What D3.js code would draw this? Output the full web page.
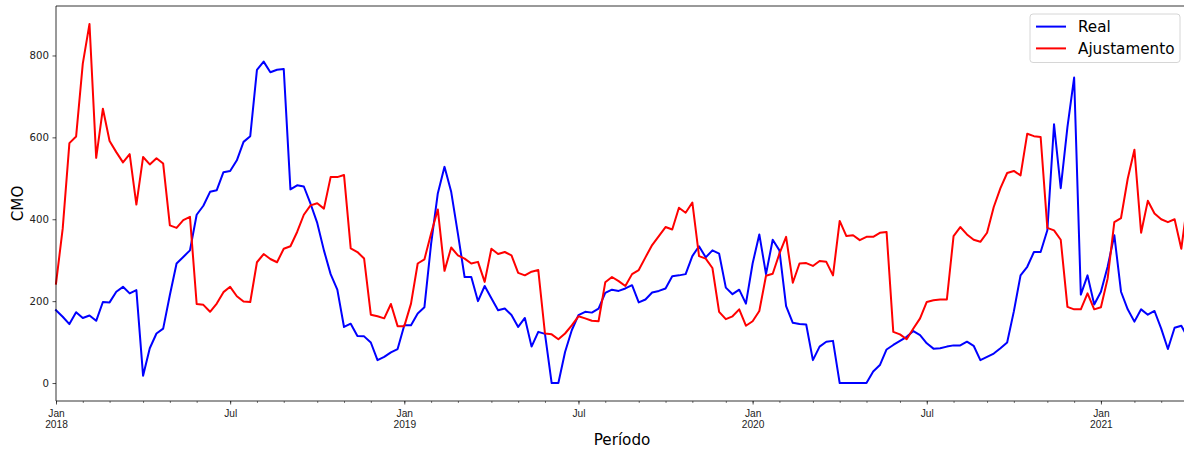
<!DOCTYPE html>
<html>
<head>
<meta charset="utf-8">
<script src="https://cdn.jsdelivr.net/npm/d3@7"></script>
<style>
  html, body { margin: 0; padding: 0; background: #fff; }
  svg { display: block; font-family: "DejaVu Sans", sans-serif; }
</style>
</head>
<body>
<div id="chart"></div>
<script>
// Weekly CMO series (weeks running Sunday to Saturday, first week starting 2017-12-31)
const firstWeek = "2017-12-31";

const real = [
  178, 162, 144, 173, 159, 165, 152, 198, 197, 223,
  235, 219, 227, 18, 85, 121, 133, 215, 292, 308,
  324, 411, 433, 467, 471, 515, 518, 544, 589, 603,
  765, 785, 759, 765, 767, 473, 483, 480, 438, 391,
  324, 266, 228, 137, 145, 115, 114, 99, 56, 64,
  75, 83, 141, 141, 170, 185, 340, 463, 528, 467,
  365, 259, 259, 200, 237, 207, 178, 182, 166, 137,
  159, 89, 125, 120, 0, 0, 76, 129, 166, 174,
  172, 182, 220, 228, 225, 231, 239, 197, 204, 221,
  225, 231, 261, 263, 266, 310, 334, 307, 324, 316,
  233, 217, 228, 194, 292, 363, 266, 350, 324, 188,
  147, 144, 143, 56, 89, 101, 103, 0, 0, 0,
  0, 0, 28, 44, 82, 93, 103, 113, 127, 117,
  97, 84, 85, 89, 92, 92, 101, 91, 56, 64,
  72, 85, 99, 175, 263, 284, 320, 320, 373, 632,
  476, 625, 746, 216, 263, 192, 223, 284, 361, 223,
  180, 150, 180, 167, 176, 133, 83, 135, 140, 110
];

const ajustamento = [
  243, 377, 586, 602, 780, 877, 550, 670, 591, 564,
  539, 559, 436, 552, 534, 549, 536, 385, 379, 398,
  406, 193, 191, 174, 194, 222, 235, 212, 199, 198,
  295, 315, 303, 295, 328, 334, 369, 411, 434, 439,
  426, 503, 503, 508, 329, 320, 304, 167, 163, 158,
  193, 139, 139, 194, 292, 302, 365, 424, 274, 331,
  312, 304, 292, 296, 247, 328, 315, 320, 312, 269,
  263, 272, 276, 121, 119, 107, 121, 141, 163, 158,
  152, 151, 246, 259, 249, 237, 266, 276, 307, 337,
  359, 381, 375, 428, 416, 441, 310, 304, 281, 174,
  156, 163, 180, 140, 151, 176, 262, 267, 316, 357,
  245, 292, 293, 286, 298, 296, 263, 396, 359, 361,
  349, 357, 357, 367, 369, 125, 119, 107, 133, 158,
  198, 202, 204, 204, 359, 381, 363, 350, 345, 367,
  430, 476, 513, 518, 507, 609, 603, 601, 379, 373,
  350, 186, 180, 180, 219, 180, 185, 255, 393, 403,
  499, 570, 367, 445, 414, 400, 393, 400, 328, 450
];

const seriesNames = ["Real", "Ajustamento"];
const seriesColors = ["#0000ff", "#ff0000"];

// Labelled month ticks and their labels
const majorMonths = ["2018-01-01", "2018-07-01", "2019-01-01", "2019-07-01", "2020-01-01", "2020-07-01", "2021-01-01"];
const majorLabels = [["Jan", "2018"], ["Jul"], ["Jan", "2019"], ["Jul"], ["Jan", "2020"], ["Jul"], ["Jan", "2021"]];
const yTicks = [0, 200, 400, 600, 800];

const W = 1184, H = 450;
const margin = { left: 56, top: 6, right: 1188, bottom: 401 };

const parse = d3.utcParse("%Y-%m-%d");
const start = parse(firstWeek);
const weeks = d3.range(real.length).map(i => d3.utcWeek.offset(start, i));

const svg = d3.select("#chart").append("svg")
  .attr("width", W).attr("height", H);

const x = d3.scaleUtc()
  .domain([weeks[0], weeks[weeks.length - 1]])
  .range([margin.left, margin.right]);

const allVals = real.concat(ajustamento);
const lo = d3.min(allVals), hi = d3.max(allVals);
const pad = (hi - lo) * 0.05;
const y = d3.scaleLinear()
  .domain([lo - pad, hi + pad])
  .range([margin.bottom, margin.top]);

// Each month tick sits on the week that contains the 1st of the month
const weekOf = d => d3.utcSunday.floor(d);
const minorTicks = d3.utcMonth.range(parse("2018-01-01"), d3.utcDay.offset(weeks[weeks.length - 1], 1))
  .map(weekOf);
const majorTicks = majorMonths.map(s => weekOf(parse(s)));

// Lines
const series = [real, ajustamento];
const line = d3.line()
  .x((d, i) => x(weeks[i]))
  .y(d => y(d));

svg.append("g").selectAll("path")
  .data(series)
  .join("path")
  .attr("d", d => line(d))
  .attr("fill", "none")
  .attr("stroke", (d, i) => seriesColors[i])
  .attr("stroke-width", 2)
  .attr("stroke-linejoin", "round")
  .attr("stroke-linecap", "square");

// Y axis
const yAxis = svg.append("g")
  .attr("transform", `translate(${margin.left},0)`)
  .call(d3.axisLeft(y).tickValues(yTicks).tickSize(3.5).tickPadding(3.5).tickFormat(d3.format("d")));
yAxis.select(".domain").remove();
yAxis.selectAll("text").attr("font-size", 10.2).attr("fill", "#222").attr("font-family", "DejaVu Sans");
yAxis.selectAll("line").attr("stroke", "#222").attr("stroke-width", 0.8);

// X axis: minor month ticks
const xMinor = svg.append("g")
  .attr("transform", `translate(0,${margin.bottom})`)
  .call(d3.axisBottom(x).tickValues(minorTicks).tickSize(2).tickFormat(""));
xMinor.select(".domain").remove();
xMinor.selectAll("line").attr("stroke", "#222").attr("stroke-width", 0.6);

// X axis: labelled ticks
const xMajor = svg.append("g")
  .attr("transform", `translate(0,${margin.bottom})`)
  .call(d3.axisBottom(x).tickValues(majorTicks).tickSize(3.5).tickFormat(""));
xMajor.select(".domain").remove();
xMajor.selectAll("line").attr("stroke", "#222").attr("stroke-width", 0.8);
xMajor.selectAll(".tick").each(function (d, i) {
  const t = d3.select(this).append("text")
    .attr("fill", "#222")
    .attr("font-size", 10.2)
    .attr("text-anchor", "middle");
  majorLabels[i].forEach((s, k) => {
    t.append("tspan").attr("x", 0).attr("y", 15.6 + k * 11.6).text(s);
  });
});

// Spines (left, bottom, top)
const spine = svg.append("g").attr("stroke", "#000").attr("stroke-width", 0.8);
spine.append("line").attr("x1", margin.left).attr("x2", margin.left).attr("y1", margin.top).attr("y2", margin.bottom);
spine.append("line").attr("x1", margin.left).attr("x2", margin.right).attr("y1", margin.bottom).attr("y2", margin.bottom);
spine.append("line").attr("x1", margin.left).attr("x2", margin.right).attr("y1", margin.top).attr("y2", margin.top);
spine.append("line").attr("x1", margin.right).attr("x2", margin.right).attr("y1", margin.top).attr("y2", margin.bottom);

// Axis titles
svg.append("text")
  .attr("x", (margin.left + margin.right) / 2)
  .attr("y", 445)
  .attr("text-anchor", "middle")
  .attr("font-size", 15.2)
  .attr("fill", "#000")
  .text("Período");

svg.append("text")
  .attr("transform", `translate(22.5,${(margin.top + margin.bottom) / 2}) rotate(-90)`)
  .attr("text-anchor", "middle")
  .attr("font-size", 15.2)
  .attr("fill", "#000")
  .text("CMO");

// Legend
const legend = svg.append("g");
legend.append("rect")
  .attr("x", 1030).attr("y", 14)
  .attr("width", 150).attr("height", 48.5)
  .attr("rx", 3)
  .attr("fill", "#fff").attr("fill-opacity", 0.8)
  .attr("stroke", "#cccccc").attr("stroke-width", 0.8);
seriesNames.forEach((name, i) => {
  const yy = 26.6 + i * 21.8;
  legend.append("line")
    .attr("x1", 1036).attr("x2", 1066)
    .attr("y1", yy).attr("y2", yy)
    .attr("stroke", seriesColors[i]).attr("stroke-width", 2);
  legend.append("text")
    .attr("x", 1078).attr("y", yy + 5.6)
    .attr("font-size", 15.2)
    .attr("fill", "#000")
    .text(name);
});
</script>
</body>
</html>
